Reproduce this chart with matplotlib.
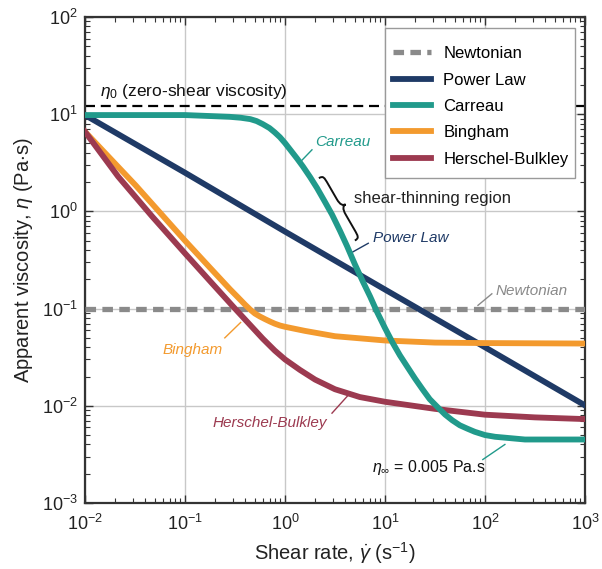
import numpy as np
import matplotlib
matplotlib.use("Agg")
from matplotlib import pyplot as plt
from matplotlib.path import Path
from matplotlib.patches import PathPatch, Rectangle
from matplotlib import transforms

plt.rcParams['font.family'] = ['Liberation Sans', 'DejaVu Sans']
plt.rcParams['mathtext.fontset'] = 'custom'
plt.rcParams['mathtext.rm'] = 'Liberation Sans'
plt.rcParams['mathtext.it'] = 'Liberation Sans:italic'

# values
newton_x = [1e-2, 1e3]
newton_y = [0.1, 0.1]

power_x = [0.01, 0.1, 1, 10, 100, 1000]
power_y = [9.8, 2.5, 0.62, 0.157, 0.040, 0.0101]

carreau_x = [0.01, 0.1, 0.28, 0.36, 0.45, 0.52, 0.6, 0.7, 0.79, 0.89, 1.0, 1.15, 1.32,
             1.51, 1.78, 2.09, 2.5, 2.95, 3.55, 4.17, 5.0, 6.0, 7.1, 8.3, 10, 12, 14.1,
             16.8, 20, 23.7, 28, 33.5, 40, 47, 56, 67, 79, 100, 126, 158, 251, 1000]
carreau_y = [9.8, 9.8, 9.4, 9.2, 8.9, 8.5, 7.9, 7.2, 6.5, 5.8, 5.05, 4.2, 3.5,
             2.9, 2.26, 1.74, 1.26, 0.93, 0.63, 0.44, 0.285, 0.19, 0.133, 0.093, 0.063,
             0.044, 0.033, 0.025, 0.019, 0.0148, 0.0117, 0.0097, 0.0081, 0.0071, 0.0063,
             0.0058, 0.0054, 0.0050, 0.0048, 0.0047, 0.0045, 0.0045]

bingham_x = [0.01, 0.032, 0.1, 0.178, 0.282, 0.335, 0.398, 0.447, 0.5, 0.56, 0.63,
             0.71, 0.79, 0.89, 1.0, 1.58, 3.16, 10, 31.6, 100, 1000]
bingham_y = [6.6, 1.86, 0.50, 0.263, 0.158, 0.132, 0.110, 0.098, 0.089, 0.083, 0.078,
             0.0735, 0.070, 0.067, 0.065, 0.059, 0.052, 0.047, 0.0447, 0.0442, 0.0437]

hb_x = [0.01, 0.0214, 0.0468, 0.1, 0.19, 0.316, 0.447, 0.6, 0.79, 1.0, 1.41, 2.0, 3.16,
        5.6, 10, 31.6, 100, 316, 1000]
hb_y = [6.6, 2.29, 0.89, 0.37, 0.178, 0.100, 0.068, 0.049, 0.037, 0.030, 0.0234, 0.0186,
        0.0148, 0.0123, 0.011, 0.0093, 0.0081, 0.0076, 0.0073]

eta0 = 12.1
legend_order = ['Newtonian', 'Power Law', 'Carreau', 'Bingham', 'Herschel-Bulkley']

c_gray = '#8a8a8a'
c_power = '#1f3a66'
c_carreau = '#219a8b'
c_bingham = '#f39a2e'
c_hb = '#9c3a50'

fig = plt.figure(figsize=(6.02, 5.69), dpi=100)
ax = fig.add_axes([0.1412, 0.116, 0.8306, 0.8541])
ax.set_xscale('log')
ax.set_yscale('log')
ax.set_xlim(1e-2, 1e3)
ax.set_ylim(1e-3, 1e2)

ax.grid(True, which='major', color='#c8c8c8', linewidth=1.0)
ax.set_axisbelow(True)

ax.axhline(eta0, color='k', linewidth=1.6, linestyle=(0, (4.5, 2.6)), zorder=2)

lw = 4.2
ax.plot(newton_x, newton_y, color=c_gray, linewidth=3.8, dashes=(2.0, 1.2),
        label='Newtonian', zorder=3, solid_capstyle='butt')
ax.plot(power_x, power_y, color=c_power, linewidth=lw, label='Power Law', zorder=4)
ax.plot(bingham_x, bingham_y, color=c_bingham, linewidth=lw, label='Bingham', zorder=4)
ax.plot(hb_x, hb_y, color=c_hb, linewidth=lw, label='Herschel-Bulkley', zorder=5)
ax.plot(carreau_x, carreau_y, color=c_carreau, linewidth=lw, label='Carreau', zorder=6)

# legend: white box drawn separately, entries placed on top without a frame
ax.add_patch(Rectangle((0.6, 0.669), 0.38, 0.308, transform=ax.transAxes,
                       facecolor='white', edgecolor='#9a9a9a', linewidth=1.0, zorder=9))
handles, labels = ax.get_legend_handles_labels()
hmap = dict(zip(labels, handles))
leg = ax.legend([hmap[k] for k in legend_order], legend_order, loc='upper left',
                bbox_to_anchor=(0.616, 0.94), borderaxespad=0, borderpad=0,
                fontsize=12, frameon=False, handlelength=2.3, labelspacing=0.68,
                handletextpad=0.72)
leg.set_zorder(10)

ax.tick_params(which='both', direction='in', top=True, right=True, colors='#333333',
               labelcolor='#222222')
ax.tick_params(which='major', length=6, width=1.0, labelsize=13)
ax.tick_params(axis='x', which='major', pad=8)
ax.tick_params(axis='y', which='major', pad=5)
ax.tick_params(which='minor', length=3.5, width=0.8)
for s in ax.spines.values():
    s.set_linewidth(1.6)
    s.set_color('#333333')

ax.set_xlabel(r'Shear rate, $\dot{\gamma}$ (s$^{-1}$)', fontsize=14.5, color='#222222',
              labelpad=4)
ax.set_ylabel(r'Apparent viscosity, $\eta$ (Pa$\cdot$s)', fontsize=14.5, color='#222222',
              labelpad=5)

# annotations
ax.text(0.014, 13.8, r'$\eta_0$ (zero-shear viscosity)', fontsize=12.5, color='#111111',
        va='bottom', ha='left')

ax.text(2.0, 5.2, 'Carreau', fontsize=11, style='italic', color=c_carreau,
        ha='left', va='center')
ax.plot([1.41, 1.86], [3.2, 4.3], color=c_carreau, linewidth=1.0)

# curly brace, drawn as a path (half length 1, tip width w) then rotated into place
w = 0.28
brace_verts = [(0, 1), (0.5 * w, 1), (0.5 * w, 0.95), (0.5 * w, 0.72),
               (0.5 * w, 0.25),
               (0.5 * w, 0.06), (0.7 * w, 0), (w, 0),
               (0.7 * w, 0), (0.5 * w, -0.06), (0.5 * w, -0.25),
               (0.5 * w, -0.72),
               (0.5 * w, -0.95), (0.5 * w, -1), (0, -1)]
brace_codes = [Path.MOVETO, Path.CURVE4, Path.CURVE4, Path.CURVE4, Path.LINETO,
               Path.CURVE4, Path.CURVE4, Path.CURVE4, Path.CURVE4, Path.CURVE4,
               Path.CURVE4, Path.LINETO, Path.CURVE4, Path.CURVE4, Path.CURVE4]
cx, cy = ax.transData.transform((3.3, 1.05))
brace_tr = (transforms.Affine2D().scale(36).rotate_deg(30).translate(cx, cy)
            + transforms.Affine2D().scale(1.0 / fig.dpi) + fig.dpi_scale_trans)
ax.add_patch(PathPatch(Path(brace_verts, brace_codes), facecolor='none',
                       edgecolor='#111111', linewidth=1.4, transform=brace_tr,
                       zorder=7))
ax.text(4.9, 1.35, 'shear-thinning region', fontsize=12, color='#222222',
        ha='left', va='center')

ax.text(7.6, 0.53, 'Power Law', fontsize=11, style='italic', color=c_power,
        ha='left', va='center')
ax.plot([4.7, 6.8], [0.38, 0.47], color=c_power, linewidth=1.0)

ax.text(126, 0.15, 'Newtonian', fontsize=11, style='italic', color=c_gray,
        ha='left', va='center')
ax.plot([85, 117], [0.108, 0.142], color=c_gray, linewidth=1.0)

ax.text(0.059, 0.0375, 'Bingham', fontsize=11, style='italic', color=c_bingham,
        ha='left', va='center')
ax.plot([0.25, 0.36], [0.050, 0.072], color=c_bingham, linewidth=1.0)

ax.text(0.19, 0.0066, 'Herschel-Bulkley', fontsize=11, style='italic', color=c_hb,
        ha='left', va='center')
ax.plot([2.95, 4.27], [0.0084, 0.0128], color=c_hb, linewidth=1.0)

ax.text(7.4, 0.0023, r'$\eta_\infty$ = 0.005 Pa.s', fontsize=11.5, color='#111111',
        ha='left', va='center')
ax.plot([95, 158], [0.0028, 0.0040], color=c_carreau, linewidth=1.0)

fig.savefig('out.png', dpi=100)
